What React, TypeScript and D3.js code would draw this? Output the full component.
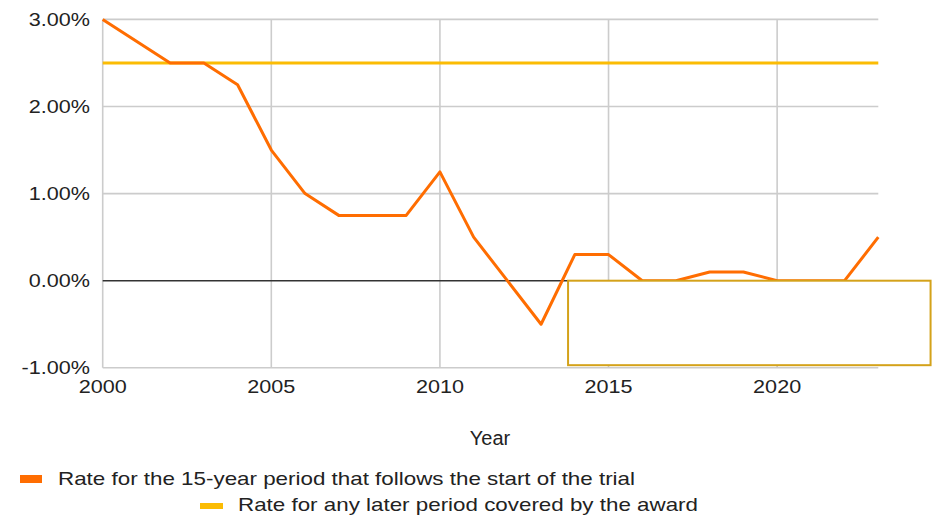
import React from "react";
import * as d3 from "d3";

const years = [2000, 2001, 2002, 2003, 2004, 2005, 2006, 2007, 2008, 2009, 2010, 2011, 2012, 2013, 2014, 2015, 2016, 2017, 2018, 2019, 2020, 2021, 2022, 2023];
const rate15 = [3.0, 2.75, 2.5, 2.5, 2.25, 1.5, 1.0, 0.75, 0.75, 0.75, 1.25, 0.5, 0.0, -0.5, 0.3, 0.3, 0.0, 0.0, 0.1, 0.1, 0.0, 0.0, 0.0, 0.5];
const rateLater = [2.5, 2.5, 2.5, 2.5, 2.5, 2.5, 2.5, 2.5, 2.5, 2.5, 2.5, 2.5, 2.5, 2.5, 2.5, 2.5, 2.5, 2.5, 2.5, 2.5, 2.5, 2.5, 2.5, 2.5];
const yTicks = [-1, 0, 1, 2, 3];
const xTicks = [2000, 2005, 2010, 2015, 2020];
const xTitle = "Year";
const legendLabels = [
  "Rate for the 15-year period that follows the start of the trial",
  "Rate for any later period covered by the award",
];
const boxExtent = { x0: 2013.8, x1: 2024.55, y0: 0, y1: -0.97 };

const ORANGE = "#ff6d01";
const YELLOW = "#fbbc04";
const FONT = "'Liberation Sans', Arial, sans-serif";

export default function App() {
  const x = d3.scaleLinear().domain([2000, 2023]).range([102.7, 878.3]);
  const y = d3.scaleLinear().domain([-1, 3]).range([367.8, 19.4]);
  const line = d3
    .line<number>()
    .x((_, i) => x(years[i]))
    .y((d) => y(d));

  return (
    <svg
      width={933}
      height={515}
      style={{ position: "absolute", left: 0, top: 0, background: "#fff" }}
      fontFamily={FONT}
    >
      {/* horizontal grid */}
      {yTicks.filter((t) => t !== 0).map((t) => (
        <line key={"h" + t} x1={x(2000)} x2={x(2023)} y1={y(t)} y2={y(t)} stroke="#cccccc" strokeWidth={1.6} />
      ))}
      {/* vertical grid */}
      {xTicks.map((t) => (
        <line key={"v" + t} x1={x(t)} x2={x(t)} y1={y(3)} y2={y(-1)} stroke="#cccccc" strokeWidth={1.6} />
      ))}
      {/* zero line */}
      <line x1={x(2000)} x2={x(2023)} y1={y(0)} y2={y(0)} stroke="#333" strokeWidth={1.5} />

      {/* y labels */}
      {yTicks.map((t) => (
        <text
          key={"yl" + t}
          transform={`translate(90,${y(t)}) scale(1.2,1)`}
          textAnchor="end"
          dominantBaseline="central"
          fontSize={18}
          fill="#222"
        >
          {t.toFixed(2) + "%"}
        </text>
      ))}
      {/* x labels */}
      {xTicks.map((t) => (
        <text
          key={"xl" + t}
          transform={`translate(${x(t)},393) scale(1.2,1)`}
          textAnchor="middle"
          fontSize={18}
          fill="#222"
        >
          {t}
        </text>
      ))}
      <text x={490} y={445} textAnchor="middle" fontSize={20} fill="#222">
        {xTitle}
      </text>

      {/* series */}
      <path d={line(rateLater) || ""} fill="none" stroke={YELLOW} strokeWidth={3} />
      <path d={line(rate15) || ""} fill="none" stroke={ORANGE} strokeWidth={3} strokeLinejoin="round" />

      {/* overlay box */}
      <rect
        x={x(boxExtent.x0)}
        y={y(boxExtent.y0)}
        width={x(boxExtent.x1) - x(boxExtent.x0)}
        height={y(boxExtent.y1) - y(boxExtent.y0)}
        fill="#fff"
        stroke="#d4a21a"
        strokeWidth={2}
      />

      {/* legend */}
      <rect x={20} y={475} width={22} height={8} fill={ORANGE} />
      <text x={58} y={485} fontSize={19} fill="#222" textLength={577} lengthAdjust="spacingAndGlyphs">
        {legendLabels[0]}
      </text>
      <rect x={200} y={503} width={23} height={6} fill={YELLOW} />
      <text x={238} y={511} fontSize={19} fill="#222" textLength={460} lengthAdjust="spacingAndGlyphs">
        {legendLabels[1]}
      </text>
    </svg>
  );
}
